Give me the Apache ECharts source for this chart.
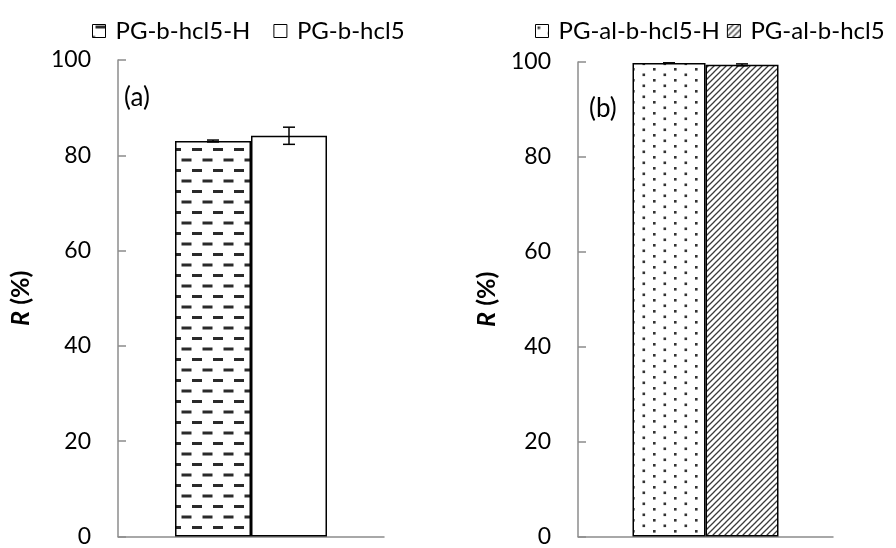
<!DOCTYPE html>
<html><head><meta charset="utf-8">
<script src="https://cdn.jsdelivr.net/npm/echarts@6/dist/echarts.min.js"></script>
<style>html,body{margin:0;padding:0;background:#fff}#c{width:896px;height:548px}</style>
</head><body><div id="c"></div>
<script>
// ---- data ----
const categoriesA = ['a'];
const seriesNamesA = ['PG-b-hcl5-H', 'PG-b-hcl5'];
const valuesA = [83.0, 84.1];
const errorsA = [0.2, 1.8];
const categoriesB = ['b'];
const seriesNamesB = ['PG-al-b-hcl5-H', 'PG-al-b-hcl5'];
const valuesB = [99.8, 99.4];
const errorsB = [0.0, 0.2];
const yMin = 0, yMax = 100, yStep = 20;
const panelLabels = ['(a)', '(b)'];

// ---- patterns ----
function makeCanvas(w, h, draw) {
  const c = document.createElement('canvas');
  c.width = w; c.height = h;
  const ctx = c.getContext('2d');
  ctx.fillStyle = '#fff'; ctx.fillRect(0, 0, w, h);
  draw(ctx);
  return c;
}
const dashPat = makeCanvas(21, 21, ctx => {
  ctx.fillStyle = '#2a2a2a';
  ctx.fillRect(3, 1, 10, 3);
  ctx.fillRect(13.5, 11.5, 10, 3);
  ctx.fillRect(-7.5, 11.5, 10, 3);
});
const dotPat = makeCanvas(21, 11, ctx => {
  ctx.fillStyle = '#333';
  ctx.fillRect(2, 2, 2.6, 2.6);
  ctx.fillRect(12.5, 7.5, 2.6, 2.6);
});
const hatchPat = makeCanvas(6, 6, ctx => {
  ctx.strokeStyle = '#3a3a3a';
  ctx.lineWidth = 1.3;
  ctx.beginPath();
  ctx.moveTo(-1, 7); ctx.lineTo(7, -1);
  ctx.moveTo(-4, 4); ctx.lineTo(4, -4);
  ctx.moveTo(2, 10); ctx.lineTo(10, 2);
  ctx.stroke();
});
const fillsA = [{ image: dashPat, repeat: 'repeat' }, '#ffffff'];
const fillsB = [{ image: dotPat, repeat: 'repeat' }, { image: hatchPat, repeat: 'repeat' }];

const FONT = 'Lato';
const axisGray = '#8c8c8c';

function yAxis(gridIndex, nameGap) {
  return {
    gridIndex, type: 'value', min: yMin, max: yMax, interval: yStep,
    name: '{i|R} {b|(%)}', nameLocation: 'middle', nameGap, nameRotate: 90,
    nameTextStyle: {
      fontFamily: FONT, fontSize: 25, fontWeight: 'bold', color: '#000',
      rich: {
        i: { fontFamily: FONT, fontSize: 25, fontWeight: 'bold', fontStyle: 'italic', color: '#000' },
        b: { fontFamily: FONT, fontSize: 25, fontWeight: 'bold', color: '#000' }
      }
    },
    axisLine: { show: true, lineStyle: { color: axisGray, width: 1.5 } },
    axisTick: { show: true, inside: true, length: 8, lineStyle: { color: axisGray, width: 1.5 } },
    splitLine: { show: false },
    axisLabel: { fontFamily: FONT, fontSize: 23, color: '#000', margin: 27 }
  };
}
function xAxis(gridIndex, cats) {
  return {
    gridIndex, type: 'category', data: cats,
    axisLine: { show: true, lineStyle: { color: axisGray, width: 1.5 } },
    axisTick: { show: false }, axisLabel: { show: false }
  };
}
function barSeries(name, idx, val, fill, barWidth) {
  return {
    type: 'bar', name, xAxisIndex: idx, yAxisIndex: idx, data: [val],
    barWidth, barGap: '0%',
    itemStyle: { color: fill, borderColor: '#000', borderWidth: 1.5 },
    emphasis: { disabled: true }, silent: true
  };
}
function errSeries(idx, vals, errs, barWidth) {
  const data = vals.map((v, i) => [i, v, errs[i]]);
  return {
    type: 'custom', xAxisIndex: idx, yAxisIndex: idx, silent: true, z: 5,
    data,
    renderItem: (params, api) => {
      const i = api.value(0), v = api.value(1), e = api.value(2);
      const center = api.coord([0, v]);
      const x = center[0] + (i === 0 ? -barWidth / 2 : barWidth / 2);
      const top = api.coord([0, v + e])[1];
      const bot = api.coord([0, v - e])[1];
      const cap = 6;
      const style = { stroke: '#000', lineWidth: 1.5 };
      return { type: 'group', children: [
        { type: 'line', shape: { x1: x, y1: top, x2: x, y2: bot }, style },
        { type: 'line', shape: { x1: x - cap, y1: top, x2: x + cap, y2: top }, style },
        { type: 'line', shape: { x1: x - cap, y1: bot, x2: x + cap, y2: bot }, style }
      ] };
    },
    encode: { x: 0, y: 1 }
  };
}
const bwA = 76, bwB = 73;
const legendText = { fontFamily: FONT, fontSize: 24, color: '#000', padding: [0, 0, 0, 5] };
const panelFont = { fontFamily: FONT, fontSize: 26, fontWeight: 'normal', color: '#000' };
const option = {
  animation: false,
  backgroundColor: '#fff',
  title: [
    { text: panelLabels[0], left: 119, top: 80, textStyle: panelFont },
    { text: panelLabels[1], left: 584, top: 91, textStyle: panelFont }
  ],
  legend: [
    { data: seriesNamesA, left: 92, top: 19, width: 400, padding: 0, itemWidth: 13, itemHeight: 13, itemGap: 23, textStyle: legendText, icon: 'rect', itemStyle: { borderColor: '#000', borderWidth: 1 } },
    { data: seriesNamesB, left: 535, top: 19, width: 400, padding: 0, itemWidth: 13, itemHeight: 13, itemGap: 7, textStyle: legendText, icon: 'rect', itemStyle: { borderColor: '#000', borderWidth: 1 } }
  ],
  grid: [
    { left: 118, right: 512, top: 60, bottom: 11 },
    { left: 578, right: 63, top: 62, bottom: 7 }
  ],
  xAxis: [xAxis(0, categoriesA), xAxis(1, categoriesB)],
  yAxis: [yAxis(0, 85), yAxis(1, 79)],
  series: [
    barSeries(seriesNamesA[0], 0, valuesA[0], fillsA[0], bwA),
    barSeries(seriesNamesA[1], 0, valuesA[1], fillsA[1], bwA),
    errSeries(0, valuesA, errorsA, bwA),
    barSeries(seriesNamesB[0], 1, valuesB[0], fillsB[0], bwB),
    barSeries(seriesNamesB[1], 1, valuesB[1], fillsB[1], bwB),
    errSeries(1, valuesB, errorsB, bwB)
  ]
};
const chart = echarts.init(document.getElementById('c'), null, { renderer: 'canvas' });
chart.setOption(option);
</script>
</body></html>
